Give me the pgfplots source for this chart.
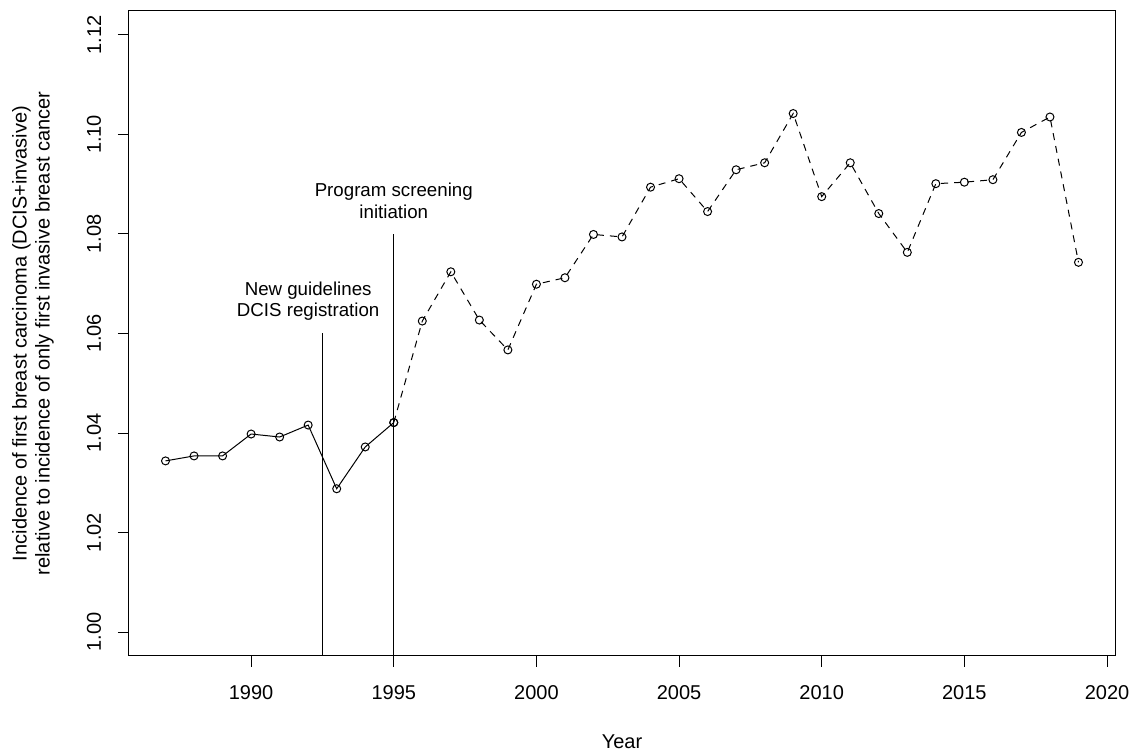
\documentclass[border=0pt]{standalone}
\usepackage{pgfplots}
\pgfplotsset{compat=1.18}
\usepackage{fontspec}
\setmainfont{Liberation Sans}
\begin{document}
\fontsize{10}{11}\selectfont
\begin{tikzpicture}
\begin{axis}[
  name=ax,
  scale only axis,
  width=493pt, height=322.5pt,
  xmin=1985.72, xmax=2020.28,
  ymin=0.9952, ymax=1.1248,
  axis line style={line width=0.5pt},
  every tick/.style={black, line width=0.5pt},
  tick align=outside,
  major tick length=5.5pt,
  xtick={1990,1995,2000,2005,2010,2015,2020},
  xticklabels={1990,1995,2000,2005,2010,2015,2020},
  ytick={1.00,1.02,1.04,1.06,1.08,1.10,1.12},
  yticklabels={1.00,1.02,1.04,1.06,1.08,1.10,1.12},
  xtick pos=bottom, ytick pos=left,
  xticklabel style={font=\fontsize{10}{11}\selectfont, anchor=north, inner sep=0pt, yshift=-9pt},
  yticklabel style={font=\fontsize{10}{11}\selectfont, rotate=90, anchor=south, inner sep=0pt, yshift=8.25pt},
  xlabel={Year},
  xlabel style={font=\fontsize{10}{11}\selectfont, at={(axis description cs:0.5,0)}, anchor=center, yshift=-43pt},
  ylabel={Incidence of first breast carcinoma (DCIS+invasive)\\relative to incidence of only first invasive breast cancer},
  ylabel style={font=\fontsize{10}{11.5}\selectfont, align=center, at={(axis description cs:-0.0974,0.5)}, anchor=center},
  clip=false,
]
% vertical event lines
\addplot[black, line width=0.5pt] coordinates {(1992.5,0.9952) (1992.5,1.06)};
\addplot[black, line width=0.5pt] coordinates {(1995,0.9952) (1995,1.08)};
% solid part
\addplot[black, line width=0.5pt, mark=o, mark size=2pt, mark options={solid, line width=0.5pt}] coordinates {
(1987,1.0344) (1988,1.0354) (1989,1.0354) (1990,1.0398) (1991,1.0392)
(1992,1.0416) (1993,1.0288) (1994,1.0372) (1995,1.0421)
};
% dashed part
\addplot[black, line width=0.5pt, dash pattern=on 3.5pt off 3pt, mark=o, mark size=2pt, mark options={solid, line width=0.5pt}] coordinates {
(1995,1.0421) (1996,1.0625) (1997,1.0724) (1998,1.0627) (1999,1.0567)
(2000,1.0699) (2001,1.0712) (2002,1.0799) (2003,1.0794) (2004,1.0894)
(2005,1.0911) (2006,1.0845) (2007,1.0929) (2008,1.0943) (2009,1.1042)
(2010,1.0875) (2011,1.0943) (2012,1.0841) (2013,1.0763) (2014,1.0901)
(2015,1.0904) (2016,1.0909) (2017,1.1004) (2018,1.1035) (2019,1.0743)
};
\node[align=center, inner sep=0pt, font=\fontsize{9.35}{10.8}\selectfont] at (axis cs:1992,1.0665) {New guidelines\\DCIS registration};
\node[align=center, inner sep=0pt, font=\fontsize{9.35}{10.8}\selectfont] at (axis cs:1995,1.0866) {Program screening\\initiation};
\end{axis}
\pgfresetboundingbox
\path[use as bounding box] ([shift={(-64.5pt,-48.5pt)}]ax.south west) rectangle ([shift={(504pt,328pt)}]ax.south west);
\end{tikzpicture}
\end{document}
